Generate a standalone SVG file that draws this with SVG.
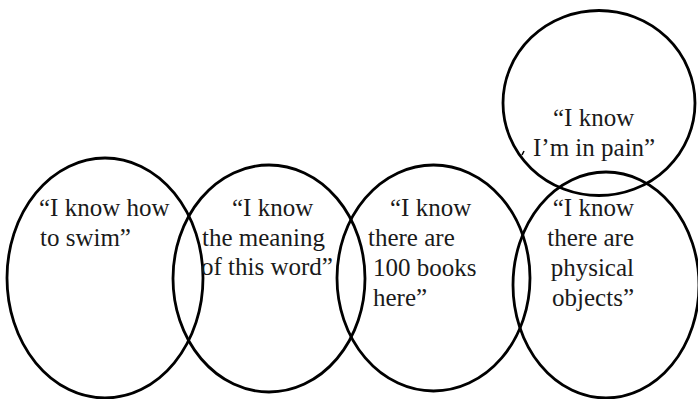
<svg xmlns="http://www.w3.org/2000/svg" width="698" height="399" viewBox="0 0 698 399">
<style>
.o{fill:none;stroke:#000;stroke-width:2.8}
.t{font-family:"Liberation Serif","Times New Roman",serif;font-size:25px;fill:#1a1a1a}
</style>
<rect width="698" height="399" fill="#fff"/>
<g id="node-swim">
<ellipse class="o" cx="105" cy="278" rx="98" ry="120"/>
<text class="t"><tspan x="39" y="216">“I know how</tspan><tspan x="40" y="246">to swim”</tspan></text>
</g>
<g id="node-word">
<ellipse class="o" cx="269" cy="278.5" rx="96" ry="113.5"/>
<text class="t"><tspan x="232" y="216">“I know</tspan><tspan x="202" y="246">the meaning</tspan><tspan x="201" y="275">of this word”</tspan></text>
</g>
<g id="node-books">
<ellipse class="o" cx="433.5" cy="278" rx="96.5" ry="113"/>
<text class="t"><tspan x="390" y="216">“I know</tspan><tspan x="368" y="246">there are</tspan><tspan x="373" y="276">100 books</tspan><tspan x="373" y="306">here”</tspan></text>
</g>
<g id="node-objects">
<ellipse class="o" cx="606" cy="285" rx="93" ry="113"/>
<text class="t" text-anchor="end"><tspan x="634" y="216">“I know</tspan><tspan x="634" y="246">there are</tspan><tspan x="634" y="276">physical</tspan><tspan x="634" y="306">objects”</tspan></text>
</g>
<g id="node-pain">
<ellipse class="o" cx="599" cy="103" rx="96" ry="92.5"/>
<text class="t"><tspan x="553" y="126">“I know</tspan><tspan x="533" y="156">I’m in pain”</tspan></text>
<path d="M524 151 L522 155" stroke="#000" stroke-width="1.5" fill="none"/>
</g>
<g id="connectors"/>
</svg>
